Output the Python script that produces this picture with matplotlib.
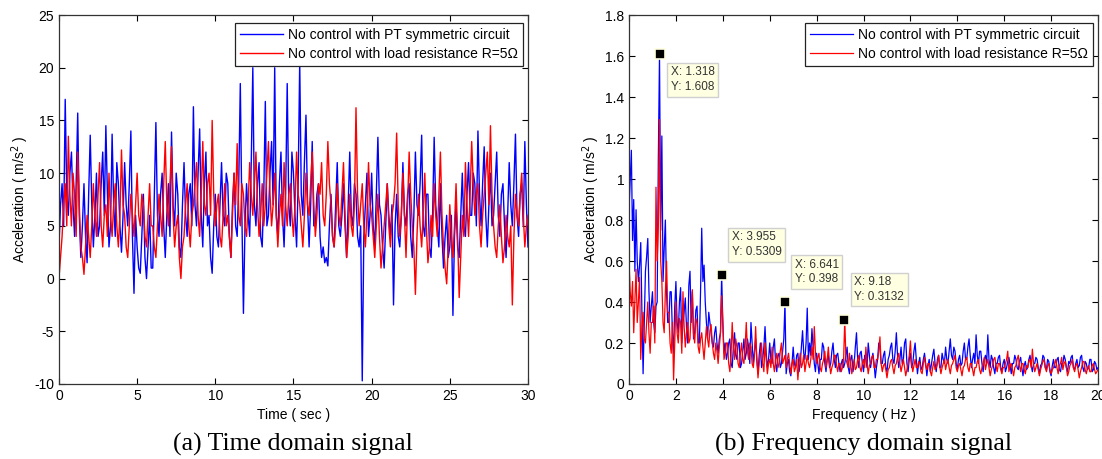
import numpy as np
import matplotlib.pyplot as plt

plt.rcParams['font.family'] = ['Liberation Sans', 'DejaVu Sans']
plt.rcParams['axes.unicode_minus'] = False

# ---- time domain data (one value every 0.1 s) ----
acc_pt = [3, 7, 9, 5, 17, 8, 6, 10, 12, 7, 4, 9, 15.7, 6, 2, 5, 9, 4, 1.5, 8,
          13.6, 7, 3, 6, 10, 4, 5, 9, 12, 6, 14.5, 8, 3, 5, 13.7, 7, 4, 11, 9, 5,
          2.5, 6, 11, 7, 5, 9, 14, 4, -1.4, 6, 3, 1, 0.5, 4, 8, 2, 0, 3, 6, 1,
          1, 8, 14.8, 6, 4, 8, 10, 5, 2, 6, 9, 4, 13.9, 7, 5, 10, 8, 3, 2, 7,
          11, 6, 4, 8, 9, 5, 16.3, 7, 5, 10, 14.2, 6, 3, 9, 12, 5, 6, 2, 0.5, 5,
          8, 4, 3, 7, 11, 6, 5, 10, 9, 4, 2, 7, 10, 5, 4, 9, 18.5, 6, -3.3, 5,
          9, 6, 4, 11, 20, 7, 5, 9, 11, 4, 3, 8, 16.8, 5, 6, 10, 13, 7, 20, 6,
          4, 9, 12, 6, 3, 8, 18.5, 7, 5, 12, 10, 6, 3, 9, 20.5, 8, 6, 11, 15.5, 7,
          3, 7, 13, 5, 5, 8, 9, 4, 2, 3, 1.5, 2, 1.2, 5, 8, 4, 3, 7, 11, 5,
          4, 6, 9, 5, 2, 7, 12, 6, 5, 9, 8, 4, 3, 5, -9.7, 4, 7, 10, 4, 6,
          10, 5, 3, 8, 13.4, 7, 6, 3, 1, 5, 9, 6, 4, 7, -2.5, 5, 8, 4, 3, 6,
          11, 6, 5, 8, 9, 4, 2, 6, 12, 7, 6, 9, 13.6, 5, 4, 8, 8, 3, 2, 6,
          13.4, 7, 5, 3, 9, 4, 1, 4, 6, 2, 3, 6, -3.5, 4, 7, 3, 2, 6, 10, 5,
          4, 8, 11, 6, 6, 10, 9, 5, 14, 8, 5, 9, 12.5, 6, 3, 7, 10, 5, 6, 9,
          12, 6, 4, 8, 9, 5, 2, 6, 11, 7, 5, 9, 13.7, 6, 4, 8, 9, 5, 13, 7,
          3]
acc_r5 = [0, 2, 4, 7, 9, 5, 13.5, 8, 5, 10, 8, 4, 12, 7, 3, 2, 0.4, 3, 6, 4,
          2, 5, 9, 6, 4, 8, 11, 5, 3, 6, 7, 4, 10, 6, 4, 7, 9, 5, 3, 6,
          12.2, 7, 6, 3, 2, 5, 8, 6, 4, 7, 10, 6, 5, 8, 7, 4, 3, 6, 9, 5,
          5, 3, 2, 5, 8, 6, 4, 9, 13, 7, 5, 9, 12.5, 6, 3, 5, 6, 2, 0, 3,
          4, 7, 9, 5, 3, 6, 7, 9, 11, 6, 4, 8, 13, 7, 6, 9, 10, 6, 15, 8,
          5, 7, 8, 4, 3, 6, 9, 5, 6, 4, 2, 6, 10, 7, 12.8, 6, 5, 9, 8, 5,
          4, 7, 11, 8, 6, 9, 12, 7, 4, 6, 9, 5, 7, 10, 13, 8, 5, 7, 10, 6,
          3, 6, 8, 5, 11, 7, 5, 8, 9, 6, 4, 7, 12, 8, 7, 5, 3, 6, 10, 7,
          6, 9, 12, 7, 4, 6, 9, 8, 11, 6, 5, 8, 13, 9, 7, 4, 3, 5, 9, 6,
          5, 8, 11, 6, 2, 4, 8, 5, 4, 7, 16.2, 8, 5, 7, 9, 5, 3, 6, 11, 7,
          6, 4, 2, 5, 8, 4, 1, 3, 5, 7, 9, 5, 3, 6, 7, 9, 13.8, 7, 4, 6,
          10, 6, 2, 7, 12, 8, 5, 3, -1.5, 4, 8, 5, 3, 6, 10, 5, 1.5, 3, 6, 4,
          9, 6, 4, 8, 12, 6, 3, 1, -0.5, 3, 7, 4, 2, 5, 9, 4, -1.8, 2, 6, 4,
          11, 7, 4, 8, 13, 9, 6, 8, 9, 5, 3, 6, 8, 10, 12, 7, 14.5, 8, 5, 3,
          2, 5, 7, 4, 1.5, 3, 6, 4, 3, 5, -2.5, 4, 8, 6, 5, 8, 10, 6, 3, 5,
          6]

# ---- frequency domain data (one value every 0.05 Hz) ----
amp_pt = [0.85, 1.0, 1.14, 0.7, 0.9, 0.55, 0.85, 0.6, 0.5, 0.58, 0.69, 0.35, 0.05, 0.3, 0.55, 0.62, 0.71, 0.45, 0.3, 0.38,
          0.45, 0.3, 0.25, 0.38, 0.4, 1.1, 1.608, 0.75, 1.21, 0.5, 0.66, 0.8, 0.45, 0.3, 0.3, 0.45, 0.45, 0.25, 0.15, 0.38,
          0.5, 0.3, 0.25, 0.4, 0.47, 0.2, 0.3, 0.35, 0.42, 0.28, 0.2, 0.48, 0.55, 0.3, 0.45, 0.22, 0.25, 0.36, 0.38, 0.2,
          0.2, 0.45, 0.76, 0.5, 0.58, 0.4, 0.3, 0.22, 0.35, 0.3, 0.25, 0.2, 0.18, 0.25, 0.28, 0.2, 0.15, 0.22, 0.25, 0.5309,
          0.3, 0.15, 0.2, 0.12, 0.15, 0.2, 0.22, 0.1, 0.08, 0.18, 0.25, 0.14, 0.12, 0.2, 0.2, 0.08, 0.1, 0.16, 0.22, 0.12,
          0.15, 0.22, 0.18, 0.1, 0.3, 0.2, 0.1, 0.16, 0.22, 0.12, 0.05, 0.14, 0.2, 0.08, 0.12, 0.18, 0.28, 0.15, 0.08, 0.12,
          0.2, 0.12, 0.1, 0.18, 0.22, 0.1, 0.06, 0.14, 0.15, 0.08, 0.1, 0.16, 0.22, 0.398, 0.05, 0.1, 0.12, 0.06, 0.04, 0.1,
          0.18, 0.1, 0.08, 0.14, 0.15, 0.06, 0.1, 0.18, 0.26, 0.15, 0.12, 0.2, 0.37, 0.12, 0.2, 0.14, 0.27, 0.18, 0.1, 0.06,
          0.15, 0.1, 0.05, 0.12, 0.12, 0.2, 0.18, 0.1, 0.06, 0.12, 0.14, 0.08, 0.1, 0.16, 0.2, 0.12, 0.08, 0.14, 0.15, 0.1,
          0.06, 0.1, 0.12, 0.08, 0.1, 0.14, 0.18, 0.08, 0.05, 0.12, 0.14, 0.06, 0.1, 0.18, 0.25, 0.12, 0.08, 0.15, 0.16, 0.1,
          0.06, 0.14, 0.12, 0.08, 0.2, 0.14, 0.08, 0.12, 0.15, 0.1, 0.03, 0.08, 0.12, 0.2, 0.18, 0.1, 0.1, 0.14, 0.16, 0.08,
          0.06, 0.12, 0.14, 0.18, 0.2, 0.12, 0.1, 0.16, 0.25, 0.14, 0.08, 0.12, 0.18, 0.1, 0.12, 0.2, 0.22, 0.1, 0.06, 0.12,
          0.15, 0.08, 0.1, 0.16, 0.2, 0.12, 0.05, 0.1, 0.13, 0.07, 0.08, 0.12, 0.15, 0.1, 0.04, 0.09, 0.12, 0.06, 0.1, 0.14,
          0.17, 0.1, 0.06, 0.12, 0.14, 0.08, 0.08, 0.15, 0.12, 0.1, 0.18, 0.12, 0.1, 0.16, 0.22, 0.14, 0.12, 0.18, 0.16, 0.1,
          0.07, 0.12, 0.14, 0.09, 0.1, 0.16, 0.2, 0.12, 0.12, 0.18, 0.22, 0.14, 0.08, 0.12, 0.15, 0.1, 0.24, 0.14, 0.1, 0.16,
          0.16, 0.1, 0.06, 0.12, 0.14, 0.1, 0.24, 0.12, 0.08, 0.14, 0.12, 0.08, 0.05, 0.1, 0.1, 0.13, 0.14, 0.08, 0.06, 0.1,
          0.12, 0.06, 0.08, 0.11, 0.13, 0.09, 0.05, 0.1, 0.1, 0.14, 0.12, 0.08, 0.07, 0.11, 0.13, 0.08, 0.04, 0.09, 0.11, 0.07,
          0.08, 0.12, 0.14, 0.09, 0.06, 0.1, 0.1, 0.13, 0.12, 0.08, 0.05, 0.09, 0.1, 0.14, 0.13, 0.08, 0.07, 0.12, 0.11, 0.06,
          0.04, 0.09, 0.12, 0.08, 0.08, 0.12, 0.13, 0.07, 0.06, 0.1, 0.1, 0.14, 0.12, 0.08, 0.06, 0.11, 0.1, 0.13, 0.14, 0.08,
          0.07, 0.1, 0.12, 0.08, 0.09, 0.13, 0.14, 0.08, 0.06, 0.11, 0.1, 0.07, 0.08, 0.12, 0.12, 0.06, 0.07, 0.11, 0.1, 0.07,
          0.08]
amp_r5 = [0.6, 0.45, 0.38, 0.5, 0.25, 0.4, 0.56, 0.3, 0.4, 0.52, 0.12, 0.28, 0.35, 0.22, 0.2, 0.3, 0.4, 0.25, 0.15, 0.3,
          0.3, 0.38, 0.2, 0.96, 0.6, 0.77, 1.29, 0.6, 0.5, 0.3, 0.25, 0.45, 0.6, 0.35, 0.35, 0.2, 0.15, 0.3, 0.02, 0.2,
          0.4, 0.25, 0.2, 0.32, 0.3, 0.15, 0.45, 0.28, 0.18, 0.25, 0.3, 0.2, 0.22, 0.35, 0.46, 0.25, 0.2, 0.32, 0.3, 0.18,
          0.15, 0.22, 0.25, 0.18, 0.12, 0.2, 0.28, 0.22, 0.18, 0.26, 0.29, 0.2, 0.15, 0.12, 0.2, 0.16, 0.1, 0.18, 0.25, 0.43,
          0.3, 0.12, 0.15, 0.2, 0.2, 0.1, 0.06, 0.14, 0.3, 0.18, 0.12, 0.22, 0.18, 0.1, 0.08, 0.15, 0.2, 0.12, 0.1, 0.18,
          0.3, 0.16, 0.12, 0.2, 0.18, 0.1, 0.08, 0.14, 0.28, 0.12, 0.03, 0.1, 0.15, 0.2, 0.1, 0.06, 0.2, 0.12, 0.05, 0.1,
          0.12, 0.08, 0.18, 0.1, 0.06, 0.12, 0.15, 0.08, 0.1, 0.16, 0.2, 0.1, 0.12, 0.14, 0.08, 0.12, 0.15, 0.1, 0.05, 0.1,
          0.12, 0.06, 0.08, 0.12, 0.02, 0.1, 0.15, 0.08, 0.1, 0.14, 0.06, 0.1, 0.14, 0.1, 0.08, 0.12, 0.18, 0.12, 0.28, 0.15,
          0.1, 0.13, 0.15, 0.08, 0.06, 0.1, 0.12, 0.16, 0.08, 0.12, 0.18, 0.1, 0.05, 0.08, 0.1, 0.14, 0.14, 0.09, 0.06, 0.1,
          0.1, 0.06, 0.08, 0.12, 0.3132, 0.12, 0.1, 0.08, 0.15, 0.1, 0.05, 0.09, 0.12, 0.07, 0.08, 0.12, 0.14, 0.08, 0.06, 0.1,
          0.12, 0.08, 0.18, 0.1, 0.05, 0.09, 0.1, 0.13, 0.14, 0.08, 0.08, 0.12, 0.12, 0.16, 0.23, 0.1, 0.06, 0.09, 0.1, 0.07,
          0.03, 0.07, 0.08, 0.11, 0.12, 0.08, 0.05, 0.09, 0.1, 0.13, 0.15, 0.1, 0.06, 0.09, 0.12, 0.08, 0.04, 0.07, 0.1, 0.14,
          0.21, 0.1, 0.06, 0.09, 0.12, 0.08, 0.08, 0.11, 0.1, 0.06, 0.05, 0.1, 0.13, 0.09, 0.07, 0.1, 0.1, 0.06, 0.04, 0.08,
          0.11, 0.07, 0.08, 0.1, 0.14, 0.09, 0.05, 0.08, 0.1, 0.12, 0.07, 0.1, 0.12, 0.08, 0.05, 0.09, 0.1, 0.12, 0.14, 0.08,
          0.06, 0.09, 0.1, 0.07, 0.04, 0.08, 0.09, 0.12, 0.13, 0.08, 0.06, 0.1, 0.1, 0.07, 0.04, 0.08, 0.08, 0.11, 0.12, 0.07,
          0.05, 0.08, 0.1, 0.13, 0.07, 0.1, 0.12, 0.08, 0.04, 0.07, 0.09, 0.12, 0.13, 0.09, 0.06, 0.1, 0.1, 0.07, 0.05, 0.08,
          0.08, 0.1, 0.12, 0.16, 0.06, 0.09, 0.1, 0.07, 0.04, 0.08, 0.09, 0.12, 0.14, 0.09, 0.06, 0.1, 0.1, 0.07, 0.05, 0.09,
          0.08, 0.11, 0.12, 0.08, 0.17, 0.1, 0.06, 0.08, 0.1, 0.07, 0.04, 0.07, 0.09, 0.11, 0.12, 0.08, 0.06, 0.09, 0.1, 0.07,
          0.05, 0.07, 0.08, 0.1, 0.12, 0.08, 0.05, 0.09, 0.1, 0.13, 0.07, 0.1, 0.11, 0.08, 0.04, 0.06, 0.09, 0.1, 0.12, 0.08,
          0.06, 0.09, 0.1, 0.07, 0.03, 0.06, 0.08, 0.11, 0.11, 0.07, 0.05, 0.08, 0.09, 0.06, 0.06, 0.09, 0.1, 0.07, 0.05, 0.06,
          0.07]

# data tips shown on the spectrum
tip_x = [1.318, 3.955, 6.641, 9.18]
tip_y = [1.608, 0.5309, 0.398, 0.3132]
tip_above = [False, True, True, True]

labels = ['No control with PT symmetric circuit', 'No control with load resistance R=5\u03a9']

fig = plt.figure(figsize=(11.02, 4.59), dpi=100)
ax1 = fig.add_axes([0.0535, 0.1634, 0.4256, 0.8039])
ax2 = fig.add_axes([0.5708, 0.1634, 0.4256, 0.8039])

t_pt = np.linspace(0, 30, len(acc_pt))
t_r5 = np.linspace(0, 30, len(acc_r5))
ax1.plot(t_pt, acc_pt, color='#0000ff', lw=1.0, label=labels[0])
ax1.plot(t_r5, acc_r5, color='#ff0000', lw=1.0, label=labels[1])
ax1.set_xlim(0, 30)
ax1.set_ylim(-10, 25)
ax1.set_xticks(range(0, 31, 5))
ax1.set_yticks(range(-10, 26, 5))
ax1.set_xlabel('Time ( sec )', fontsize=10, labelpad=4)
ax1.set_ylabel('Acceleration ( m/s$^2$ )', fontsize=10, labelpad=2)

f_pt = np.linspace(0, 20, len(amp_pt))
f_r5 = np.linspace(0, 20, len(amp_r5))
ax2.plot(f_pt, amp_pt, color='#0000ff', lw=0.9, label=labels[0])
ax2.plot(f_r5, amp_r5, color='#ff0000', lw=0.9, label=labels[1])
ax2.set_xlim(0, 20)
ax2.set_ylim(0, 1.8)
ax2.set_xticks(range(0, 21, 2))
ax2.set_yticks(np.arange(0, 1.81, 0.2))
ax2.set_yticklabels(['0', '0.2', '0.4', '0.6', '0.8', '1', '1.2', '1.4', '1.6', '1.8'])
ax2.set_xlabel('Frequency ( Hz )', fontsize=10, labelpad=4)
ax2.set_ylabel('Acceleration ( m/s$^2$ )', fontsize=10, labelpad=2)

ax2.plot(tip_x, tip_y, 's', color='black', ms=7, mec='#ffffe1', mew=1.2, ls='none', zorder=5)
for x, y, above in zip(tip_x, tip_y, tip_above):
    if above:
        off, va = (10, 17), 'bottom'
    else:
        off, va = (11, -12), 'top'
    ax2.annotate('X: %s\nY: %s' % (x, y), (x, y), xytext=off, textcoords='offset pixels',
                 ha='left', va=va, fontsize=8.5, color='#333333', linespacing=1.3,
                 bbox=dict(boxstyle='square,pad=0.3', fc='#ffffe1', ec='#d0d0d0', lw=1),
                 zorder=6)

for ax in (ax1, ax2):
    ax.tick_params(direction='in', top=True, right=True, length=4, labelsize=10, width=0.8)
    for s in ax.spines.values():
        s.set_linewidth(0.9)
        s.set_color('#333333')
    leg = ax.legend(loc='upper right', bbox_to_anchor=(1 - 5 / 469, 1 - 8 / 369),
                    fontsize=10, fancybox=False, framealpha=1, edgecolor='#222222',
                    borderaxespad=0, handlelength=3.1, handletextpad=0.35,
                    borderpad=0.35, labelspacing=0.35)
    leg.get_frame().set_linewidth(0.9)

fig.text(0.266, 0.031, '(a) Time domain signal', ha='center', va='center',
         fontsize=18.5, family='Liberation Serif')
fig.text(0.784, 0.031, '(b) Frequency domain signal', ha='center', va='center',
         fontsize=18.5, family='Liberation Serif')

fig.savefig('out.png', dpi=100)
